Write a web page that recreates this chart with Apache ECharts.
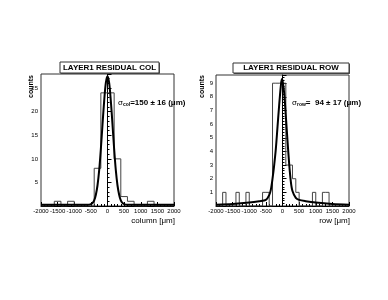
<!DOCTYPE html>
<html><head><meta charset="utf-8">
<script src="https://cdn.jsdelivr.net/npm/echarts@6/dist/echarts.min.js"></script>
<style>html,body{margin:0;padding:0;background:#fff}#c{width:388px;height:300px}</style>
</head><body><div id="c"></div>
<script>
// ---- data ----
const xTicks = [-2000, -1500, -1000, -500, 0, 500, 1000, 1500, 2000];
// left panel (COL): 200 um bins from -2000
const colBinStart = -2000;
const colBinWidth = 200;
const colCounts = [0, 0, 1, 0, 1, 0, 0, 0, 8, 24, 24, 10, 2, 1, 0, 0, 1, 0, 0, 0];
const colFitX = [-2000, -1000, -700, -600, -500, -450, -400, -350, -300, -250, -200, -150, -100, -50, 0, 50, 100, 150, 200, 250, 300, 350, 400, 450, 500, 600, 700, 1000, 2000];
const colFitY = [0.25, 0.25, 0.26, 0.27, 0.4, 0.65, 1.2, 2.4, 4.4, 7.6, 12.1, 17.3, 22.3, 26.1, 27.5, 26.1, 22.3, 17.3, 12.1, 7.6, 4.4, 2.4, 1.2, 0.65, 0.4, 0.27, 0.26, 0.25, 0.25];
// right panel (ROW): 100 um bins from -2000
const rowBinStart = -2000;
const rowBinWidth = 100;
const rowCounts = [0, 0, 1, 0, 0, 0, 1, 0, 0, 1, 0, 0, 0, 0, 1, 1, 0, 9, 9, 9, 9, 3, 3, 2, 1, 0, 0, 0, 0, 1, 0, 0, 1, 1, 0, 0, 0, 0, 0, 0];
const rowFitX = [-2000, -1500, -1000, -700, -500, -400, -350, -300, -250, -200, -150, -100, -50, -20, 0, 50, 100, 150, 200, 250, 300, 400, 500, 700, 1000, 1500, 2000];
const rowFitY = [0.1, 0.15, 0.25, 0.35, 0.45, 0.8, 1.2, 2.0, 3.0, 4.2, 5.8, 7.4, 8.8, 9.3, 9.2, 8.3, 6.6, 4.8, 3.1, 1.8, 1.1, 0.6, 0.45, 0.35, 0.25, 0.15, 0.1];

function histPts(start, w, counts) {
  const pts = [];
  counts.forEach((c, i) => pts.push([start + i * w, c]));
  pts.push([start + counts.length * w, counts[counts.length - 1]]);
  return pts;
}
function zip(xs, ys) { return xs.map((x, i) => [x, ys[i]]); }

const font = 'Liberation Sans, Arial, sans-serif';
function xAxisCfg(idx) {
  return {
    type: 'value', gridIndex: idx, min: xTicks[0], max: xTicks[xTicks.length - 1], interval: xTicks[1] - xTicks[0],
    axisLine: { show: true, lineStyle: { color: '#000', width: 1 } },
    axisTick: { show: true, inside: true, length: 4, lineStyle: { color: '#000' } },
    minorTick: { show: true, splitNumber: 5, length: 2, lineStyle: { color: '#000' } },
    splitLine: { show: false },
    axisLabel: { fontSize: 6, color: '#000', fontFamily: font, margin: 2, showMinLabel: true, showMaxLabel: true,
      hideOverlap: false, formatter: v => String(v) }
  };
}
function yAxisCfg(idx, max, interval, minorN) {
  return {
    type: 'value', gridIndex: idx, min: 0, max: max, interval: interval,
    axisLine: { show: true, lineStyle: { color: '#000', width: 1 } },
    axisTick: { show: true, inside: true, length: 4, lineStyle: { color: '#000' } },
    minorTick: { show: true, splitNumber: minorN, length: 2, lineStyle: { color: '#000' } },
    splitLine: { show: false },
    axisLabel: { fontSize: 6, color: '#000', fontFamily: font, margin: 3, showMaxLabel: false,
      formatter: v => (v === 0 ? '' : String(v)) }
  };
}

const chart = echarts.init(document.getElementById('c'), null, { renderer: 'canvas' });
chart.setOption({
  animation: false,
  backgroundColor: '#fff',
  grid: [
    { left: 41, top: 74, width: 133, height: 132, show: true, borderColor: '#333', borderWidth: 1, backgroundColor: 'transparent' },
    { left: 216, top: 75, width: 133, height: 131, show: true, borderColor: '#333', borderWidth: 1, backgroundColor: 'transparent' }
  ],
  xAxis: [xAxisCfg(0), xAxisCfg(1)],
  yAxis: [yAxisCfg(0, 28, 5, 5), yAxisCfg(1, 9.6, 1, 5)],
  series: [
    { type: 'line', xAxisIndex: 0, yAxisIndex: 0, step: 'end', symbol: 'none',
      lineStyle: { color: '#444', width: 1 }, data: histPts(colBinStart, colBinWidth, colCounts) },
    { type: 'line', xAxisIndex: 0, yAxisIndex: 0, smooth: 0.3, symbol: 'none',
      lineStyle: { color: '#000', width: 2 }, data: zip(colFitX, colFitY) },
    { type: 'line', xAxisIndex: 1, yAxisIndex: 1, step: 'end', symbol: 'none',
      lineStyle: { color: '#444', width: 1 }, data: histPts(rowBinStart, rowBinWidth, rowCounts) },
    { type: 'line', xAxisIndex: 1, yAxisIndex: 1, smooth: 0.3, symbol: 'none',
      lineStyle: { color: '#000', width: 2 }, data: zip(rowFitX, rowFitY) }
  ],
  graphic: [
    { type: 'rect', shape: { x: 61, y: 63, width: 99, height: 11 }, style: { fill: '#555' }, z: 100 },
    { type: 'rect', shape: { x: 60, y: 62, width: 99, height: 11 }, style: { fill: '#fff', stroke: '#333', lineWidth: 1 }, z: 101 },
    { type: 'text', x: 109.5, y: 67.5, style: { text: 'LAYER1 RESIDUAL COL', font: 'bold 8px ' + font, fill: '#000', align: 'center', verticalAlign: 'middle' }, z: 102 },
    { type: 'rect', shape: { x: 234, y: 64, width: 116, height: 10 }, style: { fill: '#555' }, z: 100 },
    { type: 'rect', shape: { x: 233, y: 63, width: 116, height: 10 }, style: { fill: '#fff', stroke: '#333', lineWidth: 1 }, z: 101 },
    { type: 'text', x: 291, y: 68, style: { text: 'LAYER1 RESIDUAL ROW', font: 'bold 8px ' + font, fill: '#000', align: 'center', verticalAlign: 'middle' }, z: 102 },
    { type: 'text', x: 31, y: 75, rotation: Math.PI / 2, style: { text: 'counts', font: 'bold 7px ' + font, fill: '#000', align: 'right', verticalAlign: 'middle' }, z: 102 },
    { type: 'text', x: 202, y: 75, rotation: Math.PI / 2, style: { text: 'counts', font: 'bold 7px ' + font, fill: '#000', align: 'right', verticalAlign: 'middle' }, z: 102 },
    { type: 'text', x: 175, y: 221, style: { text: 'column [\u03bcm]', font: '8px ' + font, fill: '#000', align: 'right', verticalAlign: 'middle' }, z: 102 },
    { type: 'text', x: 350, y: 221, style: { text: 'row [\u03bcm]', font: '8px ' + font, fill: '#000', align: 'right', verticalAlign: 'middle' }, z: 102 },
    { type: 'text', x: 118, y: 103, style: {
        text: '{s|\u03c3}{sub|col}{m|=150 \u00b1 16 (\u03bcm)}',
        rich: { s: { font: '8px ' + font, fill: '#000' }, sub: { font: 'bold 5px ' + font, fill: '#000', padding: [4, 0, 0, 0] }, m: { font: 'bold 8px ' + font, fill: '#000' } },
        verticalAlign: 'middle' }, z: 102 },
    { type: 'text', x: 292, y: 103, style: {
        text: '{s|\u03c3}{sub|row}{m|=  94 \u00b1 17 (\u03bcm)}',
        rich: { s: { font: '8px ' + font, fill: '#000' }, sub: { font: 'bold 5px ' + font, fill: '#000', padding: [4, 0, 0, 0] }, m: { font: 'bold 8px ' + font, fill: '#000' } },
        verticalAlign: 'middle' }, z: 102 }
  ]
});
</script></body></html>
